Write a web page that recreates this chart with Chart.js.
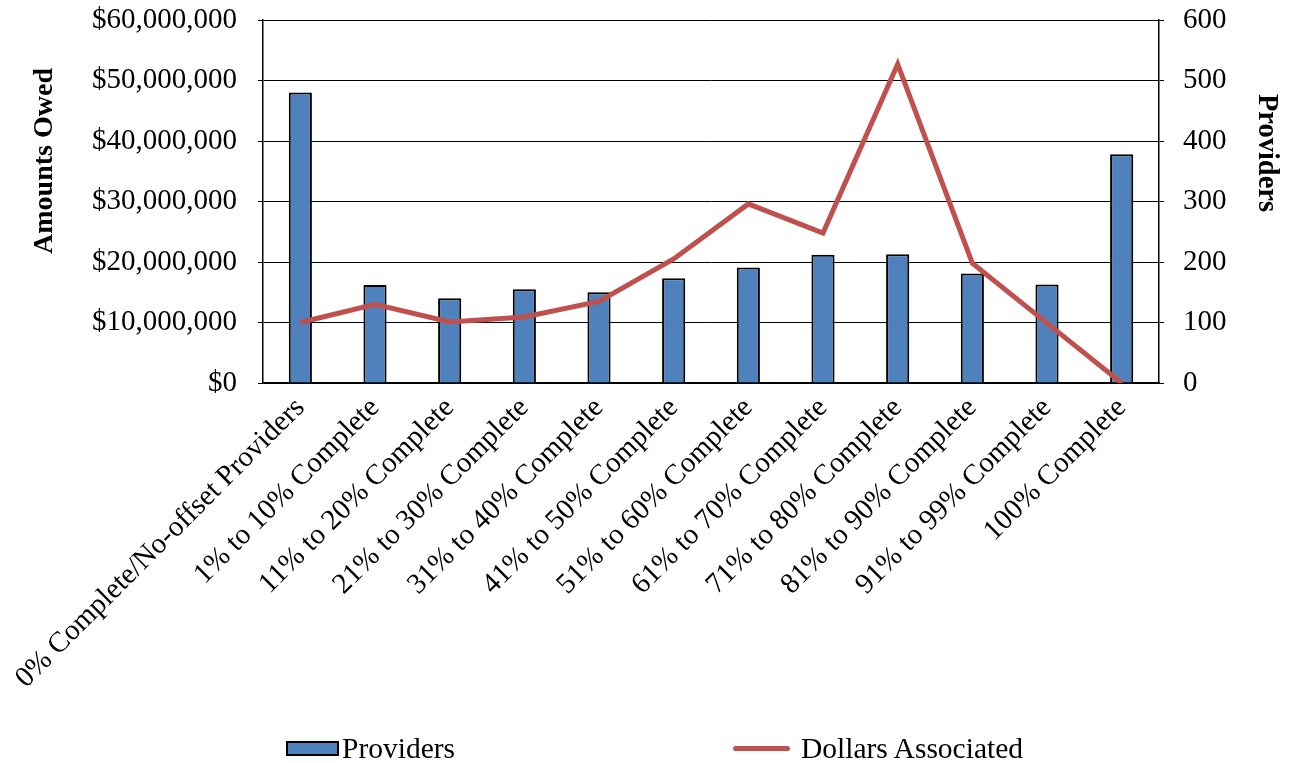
<!DOCTYPE html>
<html>
<head>
<meta charset="utf-8">
<script src="https://cdn.jsdelivr.net/npm/chart.js@4/dist/chart.umd.min.js"></script>
<style>
  html, body { margin: 0; padding: 0; background: #fff; }
  #wrap { position: relative; width: 1289px; height: 763px; }
  #legend { position: absolute; left: 0; top: 731px; width: 1289px; height: 34px;
            font-family: "Liberation Serif", "Times New Roman", serif; font-size: 29.5px; color: #000; }
  .item { position: absolute; top: 0; display: flex; align-items: center; height: 34px; }
  .box { width: 53px; height: 15px; background: #4f81bd; border: 2px solid #000; box-sizing: border-box; margin-right: 3px; }
  .line { width: 57px; height: 5px; background: #c0504d; border-radius: 3px; margin-right: 11px; }
</style>
</head>
<body>
<div id="wrap">
  <canvas id="chart" width="1289" height="763"></canvas>
  <div id="legend">
    <div class="item" style="left:286px"><span class="box"></span>Providers</div>
    <div class="item" style="left:733px"><span class="line"></span>Dollars Associated</div>
  </div>
</div>
<script>
const categories = [
    '0% Complete/No-offset Providers',
    '1% to 10% Complete',
    '11% to 20% Complete',
    '21% to 30% Complete',
    '31% to 40% Complete',
    '41% to 50% Complete',
    '51% to 60% Complete',
    '61% to 70% Complete',
    '71% to 80% Complete',
    '81% to 90% Complete',
    '91% to 99% Complete',
    '100% Complete'
];
const providers = [480, 162, 140, 155, 150, 173, 191, 212, 213, 181, 163, 378];
const dollarsAssociated = [10000000, 13000000, 10100000, 10900000, 13500000, 20500000,
    29600000, 24800000, 52700000, 19800000, 9900000, 0];

const serif = '"Liberation Serif", "Times New Roman", serif';

// axis titles sit a little above the middle of the plot, so draw them by hand
const axisTitles = {
    id: 'axisTitles',
    afterDraw(chart) {
        const ctx = chart.ctx;
        ctx.save();
        ctx.font = 'bold 28px ' + serif;
        ctx.fillStyle = '#000';
        ctx.textAlign = 'center';
        ctx.textBaseline = 'middle';
        ctx.translate(45, 161);
        ctx.rotate(-Math.PI / 2);
        ctx.fillText('Amounts Owed', 0, 0);
        ctx.restore();
        ctx.save();
        ctx.font = 'bold 28.5px ' + serif;
        ctx.fillStyle = '#000';
        ctx.textAlign = 'center';
        ctx.textBaseline = 'middle';
        ctx.translate(1266, 153);
        ctx.rotate(Math.PI / 2);
        ctx.fillText('Providers', 0, 0);
        ctx.restore();
    }
};

// fixed side widths; the plot top comes from layout padding only
function fixWidth(w) {
    return scale => {
        scale.width = w;
        scale.paddingTop = 0;
        scale.paddingBottom = 0;
    };
}

new Chart(document.getElementById('chart'), {
    type: 'bar',
    data: {
        labels: categories,
        datasets: [{
            type: 'line',
            label: 'Dollars Associated',
            data: dollarsAssociated,
            yAxisID: 'y',
            borderColor: '#c0504d',
            backgroundColor: '#c0504d',
            borderWidth: 5,
            pointRadius: 0,
            tension: 0,
            order: 0
        }, {
            label: 'Providers',
            data: providers,
            yAxisID: 'y1',
            backgroundColor: '#4f81bd',
            borderColor: '#000',
            borderWidth: 2,
            categoryPercentage: 1,
            barPercentage: 0.31,
            order: 1
        }]
    },
    options: {
        responsive: false,
        animation: false,
        layout: { padding: { top: 20, left: 0, right: 0, bottom: 0 } },
        plugins: {
            legend: { display: false },
            tooltip: { enabled: false }
        },
        scales: {
            x: {
                grid: { display: false, drawTicks: false },
                border: { color: '#000', width: 1.5 },
                ticks: {
                    color: '#000',
                    font: { family: serif, size: 29 },
                    maxRotation: 45,
                    minRotation: 45,
                    autoSkip: false,
                    padding: 8
                },
                afterFit(scale) { scale.height = 380; }
            },
            y: {
                position: 'left',
                min: 0,
                max: 60000000,
                ticks: {
                    stepSize: 10000000,
                    color: '#000',
                    padding: 21,
                    font: { family: serif, size: 29 },
                    callback: v => '$' + v.toLocaleString('en-US')
                },
                grid: { color: '#000', lineWidth: 1, tickLength: 5 },
                border: { color: '#000', width: 1.5 },
                afterFit: fixWidth(263)
            },
            y1: {
                position: 'right',
                min: 0,
                max: 600,
                ticks: {
                    stepSize: 100,
                    color: '#000',
                    padding: 19,
                    font: { family: serif, size: 29 }
                },
                grid: { drawOnChartArea: false, color: '#000', tickLength: 5 },
                border: { color: '#000', width: 1.5 },
                afterFit: fixWidth(130)
            }
        }
    },
    plugins: [axisTitles]
});
</script>
</body>
</html>
